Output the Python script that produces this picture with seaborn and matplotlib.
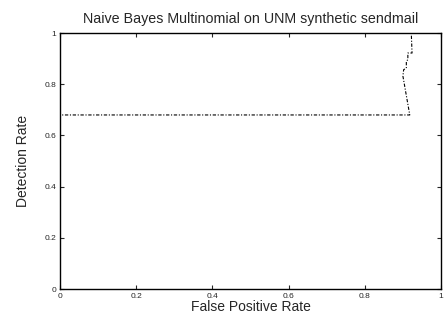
import pandas as pd
import seaborn as sns
import matplotlib
matplotlib.use('Agg')
import matplotlib.pyplot as plt

# Curva ROC
fpr = [0.0, 0.0, 0.918, 0.900, 0.902, 0.909, 0.909, 0.913, 0.913, 0.924, 0.922]
tpr = [0.0, 0.68, 0.68, 0.832, 0.857, 0.863, 0.89, 0.896, 0.922, 0.922, 1.0]
xticks = [0, 0.2, 0.4, 0.6, 0.8, 1]
yticks = [0, 0.2, 0.4, 0.6, 0.8, 1]

datos = pd.DataFrame({'fpr': fpr, 'tpr': tpr})

sns.set_style('ticks')
plt.rcParams['font.family'] = ['Liberation Sans', 'DejaVu Sans']

fig = plt.figure(figsize=(4.45, 3.16), dpi=100)
ax = fig.add_axes([0.135, 0.0854, 0.856, 0.81])

sns.lineplot(data=datos, x='fpr', y='tpr', sort=False, estimator=None,
             color='black', linewidth=0.8, linestyle=(0, (3, 1.5, 1, 1.5)), ax=ax)

ax.set_xlim(0, 1)
ax.set_ylim(0, 1)
ax.set_xticks(xticks)
ax.set_yticks(yticks)
ax.set_xticklabels([f'{t:g}' for t in xticks])
ax.set_yticklabels([f'{t:g}' for t in yticks])
ax.tick_params(direction='in', length=3, width=0.8, labelsize=6, pad=3,
               top=True, right=True)
for lado in ax.spines.values():
    lado.set_linewidth(1.0)
    lado.set_color('black')

ax.set_xlabel('False Positive Rate', fontsize=10, labelpad=0)
ax.set_ylabel('Detection Rate', fontsize=10, labelpad=10)
ax.set_title('Naive Bayes Multinomial on UNM synthetic sendmail', fontsize=10.3, pad=7)

fig.savefig('out.png', dpi=100)
